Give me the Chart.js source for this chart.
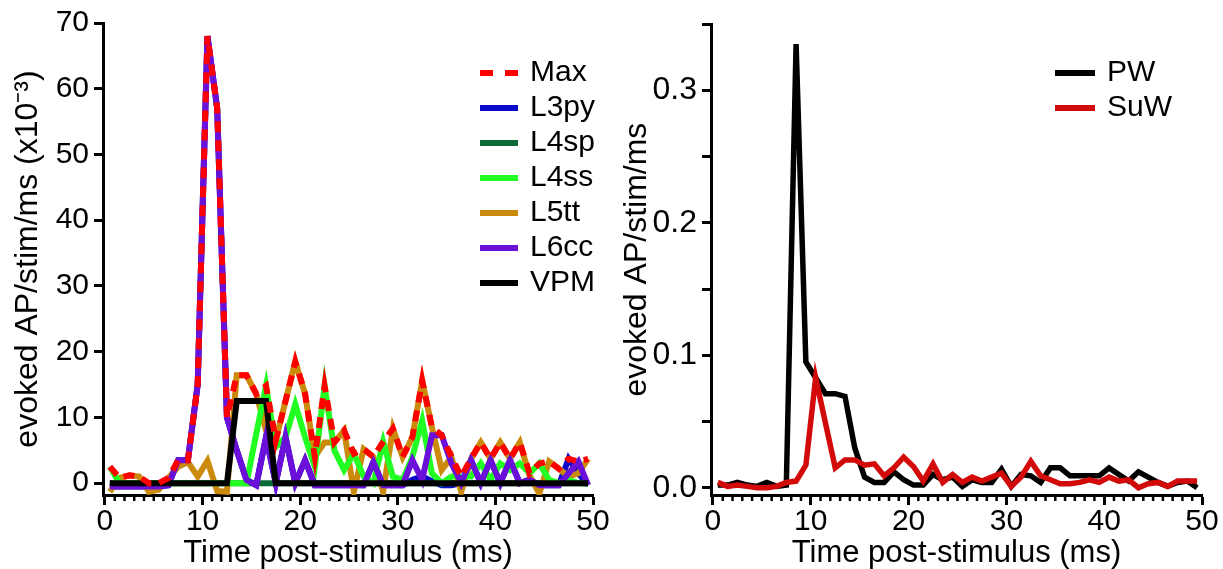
<!DOCTYPE html>
<html>
<head>
<meta charset="utf-8">
<title>evoked AP per stim</title>
<script src="https://cdn.jsdelivr.net/npm/chart.js@4.4.1/dist/chart.umd.min.js"></script>
<style>
    html, body { margin: 0; padding: 0; background: #fff; }
    #wrap { position: relative; width: 1223px; height: 569px; }
    #left { position: absolute; left: 0; top: 0; }
    #right { position: absolute; left: 615px; top: 0; }
</style>
</head>
<body>
<div id="wrap">
    <canvas id="left" width="615" height="569"></canvas>
    <canvas id="right" width="608" height="569"></canvas>
</div>
<script>
    "use strict";

    // bin centres (ms)
    var times = [0.5, 1.5, 2.5, 3.5, 4.5, 5.5, 6.5, 7.5, 8.5, 9.5,
        10.5, 11.5, 12.5, 13.5, 14.5, 15.5, 16.5, 17.5, 18.5, 19.5,
        20.5, 21.5, 22.5, 23.5, 24.5, 25.5, 26.5, 27.5, 28.5, 29.5,
        30.5, 31.5, 32.5, 33.5, 34.5, 35.5, 36.5, 37.5, 38.5, 39.5,
        40.5, 41.5, 42.5, 43.5, 44.5, 45.5, 46.5, 47.5, 48.5, 49.5];

    // left panel, x10^-3 AP/stim/ms
    var maxVals = [2.5, 0.8, 1.2, 1.0, 0, 0, 0.8, 3.5, 3.5, 15,
        68, 57, 10, 16.4, 16.4, 13.6, 14.8, 6.5, 12.5, 18.5,
        13.6, 4, 14.8, 6.2, 8, 4.5, 5.2, 4, 6.3, 8.3,
        4, 7, 15.6, 8.5, 7.3, 4, 1, 3.7, 6.2, 3.7,
        6.2, 3.7, 6.2, 1.5, 3, 3.3, 2.2, 3.7, 3.3, 3.7];
    var l3py = [-0.5, -0.5, -0.5, -0.5, -0.5, -0.5, -0.3, 3.5, 3.5, 15,
        68, 57, 10, 5, 0.5, -0.3, 7, 0, 7, 0,
        3.5, -0.3, -0.3, -0.3, -0.3, -0.3, -0.3, 3.2, -0.3, -0.3,
        -0.3, 0.5, 1.0, 0.3, -0.3, -0.3, 0, 3.5, 0, 3.5,
        0, 3.5, 0, 0.5, -0.3, -0.3, -0.3, 3.7, 1.5, -0.3];
    var l4sp = [0, 0, 0, 0, 0, 0, 0, 0, 0, 0,
        0, 0, 0, 0, 0, 0, 0, 0, 0, 0,
        0, 0, 0, 0, 0, 0, 0, 0, 0, 0,
        0, 0, 0, 0, 0, 0, 0, 0, 0, 0,
        0, 0, 0, 0, 0, 0, 0, 0, 0, 0];
    var l4ss = [2.5, 0, 0, 0, 0, 0, 0, 0, 0, 0,
        0, 0, 0, 0, 0, 7.5, 14.8, 5.5, 7, 12,
        7, 2.5, 14.8, 5, 2, 4.5, 1, 0, 6.3, 1,
        0.5, 4, 9.5, 1.5, 0, 1, 1, 1, 3, 0.5,
        3, 2, 3, 1.5, 3, 0.5, 0, 0.5, 0, 0];
    var l5tt = [-1.3, 0.8, 1.2, 1.0, -1.3, -1.0, 0.8, 2.5, 3.2, 1.0,
        3.4, -1.2, -1.3, 16.4, 16.4, 13.6, 8, 6.5, 12.5, 18.5,
        13.6, 4, 6.2, 6.2, 8, -1.3, 5.2, 4, -1.3, 8.3,
        4, 7, 15.6, 8.5, 2, 4, -1.3, 3.7, 6.2, 3.7,
        6.2, 3.7, 6.2, 1.2, -1.6, 3.3, 2.2, 1, 1.5, 3.7];
    var l6cc = [-0.5, -0.5, -0.5, -0.5, -0.5, -0.5, -0.3, 3.5, 3.5, 15,
        68, 57, 10, 5, 0.5, -0.3, 7, 0, 7, 0,
        3.5, -0.3, -0.3, -0.3, -0.3, -0.3, -0.3, 3.2, -0.3, -0.3,
        -0.3, 3.5, 0.5, 7.3, 7.3, 3, 0, 3.5, 0, 3.5,
        0, 3.5, 0, 0.5, -0.3, -0.3, -0.3, 1.5, 3.3, -0.3];
    var vpm = [0, 0, 0, 0, 0, 0, 0, 0, 0, 0,
        0, 0, 0, 12.5, 12.5, 12.5, 12.5, 0, 0, 0,
        0, 0, 0, 0, 0, 0, 0, 0, 0, 0,
        0, 0, 0, 0, 0, 0, 0, 0, 0, 0,
        0, 0, 0, 0, 0, 0, 0, 0, 0, 0];

    // right panel, AP/stim/ms
    var pw = [0.002, 0.002, 0.004, 0.002, 0.001, 0.004, 0.001, 0.002, 0.335, 0.095,
        0.083, 0.071, 0.071, 0.069, 0.03, 0.008, 0.004, 0.004, 0.012, 0.006,
        0.002, 0.002, 0.01, 0.006, 0.008, 0.001, 0.006, 0.004, 0.004, 0.014,
        0.001, 0.01, 0.009, 0.004, 0.015, 0.015, 0.009, 0.009, 0.009, 0.009,
        0.015, 0.01, 0.005, 0.012, 0.008, 0.004, 0.001, 0.004, 0.005, 0.0];
    var suw = [0.004, 0.001, 0.002, 0.001, 0.0, 0.0, 0.001, 0.004, 0.005, 0.017,
        0.083, 0.049, 0.015, 0.021, 0.021, 0.017, 0.018, 0.009, 0.015, 0.023,
        0.016, 0.005, 0.018, 0.004, 0.01, 0.004, 0.008, 0.005, 0.008, 0.011,
        0.001, 0.008, 0.02, 0.009, 0.006, 0.003, 0.003, 0.004, 0.006, 0.004,
        0.008, 0.005, 0.006, 0.0, 0.003, 0.004, 0.001, 0.005, 0.005, 0.005];

    var xTicks = [0, 10, 20, 30, 40, 50];
    var yTicksLeft = [0, 10, 20, 30, 40, 50, 60, 70];
    var yTicksRight = [0, 0.05, 0.1, 0.15, 0.2, 0.25, 0.3, 0.35];

    Chart.defaults.font.family = '"Liberation Sans", Arial, sans-serif';
    Chart.defaults.color = '#000';

    function pts(vals) {
        return times.map(function (t, i) { return {x: t, y: vals[i]}; });
    }

    function line(label, vals, color, order, width, dash) {
        return {
            label: label,
            data: pts(vals),
            borderColor: color,
            backgroundColor: color,
            borderWidth: width,
            borderDash: dash || [],
            borderJoinStyle: 'miter',
            pointRadius: 0,
            tension: 0,
            order: order
        };
    }

    // small ms ticks between the labelled ones
    var minorTicks = {
        id: 'minorTicks',
        afterDraw: function (chart) {
            var xs = chart.scales.x;
            var c = chart.ctx;
            var y0 = chart.chartArea.bottom;
            c.save();
            c.strokeStyle = '#000';
            c.lineWidth = 2.5;
            for (var v = 1; v < 50; v++) {
                if (v % 10 === 0) continue;
                var px = xs.getPixelForValue(v);
                c.beginPath();
                c.moveTo(px, y0);
                c.lineTo(px, y0 + 6);
                c.stroke();
            }
            c.restore();
        }
    };

    // legend drawn inside the plot, top right
    var sideLegend = {
        id: 'sideLegend',
        afterDatasetsDraw: function (chart, args, opts) {
            var c = chart.ctx;
            c.save();
            c.font = '30px "Liberation Sans", Arial, sans-serif';
            c.textBaseline = 'middle';
            c.fillStyle = '#000';
            chart.data.datasets.forEach(function (ds, i) {
                var y = opts.y + i * opts.gap;
                c.beginPath();
                c.strokeStyle = ds.borderColor;
                c.lineWidth = 6;
                c.setLineDash(ds.borderDash.length ? [13, 12] : []);
                c.moveTo(opts.x, y);
                c.lineTo(opts.x + opts.len, y);
                c.stroke();
                c.setLineDash([]);
                c.fillText(ds.label, opts.x + opts.len + opts.pad, y);
            });
            c.restore();
        }
    };

    function makeOptions(cfg) {
        return {
            responsive: false,
            animation: false,
            devicePixelRatio: 1,
            events: [],
            layout: {padding: {left: 0, top: 23, right: cfg.padRight, bottom: 0}},
            plugins: {
                legend: {display: false},
                tooltip: {enabled: false},
                sideLegend: cfg.legend
            },
            scales: {
                x: {
                    type: 'linear',
                    min: -0.2,
                    max: 50,
                    afterFit: function (s) { s.height = 74; },
                    afterBuildTicks: function (s) {
                        s.ticks = xTicks.map(function (v) { return {value: v}; });
                    },
                    ticks: {
                        autoSkip: false,
                        maxRotation: 0,
                        padding: -1,
                        font: {size: 30},
                        callback: function (v) { return String(v); }
                    },
                    grid: {
                        drawOnChartArea: false,
                        drawTicks: true,
                        tickLength: 10,
                        tickWidth: 3,
                        tickColor: '#000'
                    },
                    border: {display: true, color: '#000', width: 3},
                    title: {
                        display: true,
                        text: 'Time post-stimulus (ms)',
                        font: {size: 31, lineHeight: 1.0},
                        padding: {top: 0, bottom: 0}
                    }
                },
                y: {
                    type: 'linear',
                    min: cfg.yMin,
                    max: cfg.yMax,
                    afterFit: function (s) { s.width = cfg.yWidth; },
                    afterBuildTicks: function (s) {
                        s.ticks = cfg.yTicks.map(function (v) { return {value: v}; });
                    },
                    ticks: {
                        autoSkip: false,
                        padding: 5,
                        font: {size: cfg.tickSize},
                        callback: cfg.yLabel
                    },
                    grid: {
                        drawOnChartArea: false,
                        drawTicks: true,
                        tickLength: 9,
                        tickWidth: 3,
                        tickColor: '#000'
                    },
                    border: {display: true, color: '#000', width: 3},
                    title: {
                        display: true,
                        text: cfg.yTitle,
                        font: {size: 32},
                        padding: {top: cfg.titlePad, bottom: 0}
                    }
                }
            }
        };
    }

    // left: all cell types
    var ctxL = document.getElementById("left");
    new Chart(ctxL, {
        type: 'line',
        data: {
            datasets: [
                line('Max', maxVals, '#ff0000', 0, 6, [11, 8]),
                line('L3py', l3py, '#0a0ac8', 6, 6),
                line('L4sp', l4sp, '#0b6b38', 5, 6),
                line('L4ss', l4ss, '#22ff22', 3, 6),
                line('L5tt', l5tt, '#cc8a0c', 4, 6),
                line('L6cc', l6cc, '#6a10d8', 2, 6),
                line('VPM', vpm, '#000000', 1, 6)
            ]
        },
        options: makeOptions({
            padRight: 22,
            yMin: -1.8,
            yMax: 70,
            yWidth: 103,
            yTicks: yTicksLeft,
            tickSize: 30,
            yLabel: function (v) { return String(v); },
            yTitle: 'evoked AP/stim/ms (x10\u207B\u00B3)',
            titlePad: 9,
            legend: {x: 480, y: 73, gap: 35, len: 38, pad: 12}
        }),
        plugins: [minorTicks, sideLegend]
    });

    // right: principal vs surround whisker
    var ctxR = document.getElementById("right");
    new Chart(ctxR, {
        type: 'line',
        data: {
            datasets: [
                line('PW', pw, '#000000', 1, 5.5),
                line('SuW', suw, '#d20a0a', 0, 5.5)
            ]
        },
        options: makeOptions({
            padRight: 21,
            yMin: -0.0055,
            yMax: 0.35,
            yWidth: 96,
            yTicks: yTicksRight,
            tickSize: 32,
            yLabel: function (v) {
                return Math.round(v * 100) % 10 === 0 ? v.toFixed(1) : '';
            },
            yTitle: 'evoked AP/stim/ms',
            titlePad: 3,
            legend: {x: 440, y: 73, gap: 35, len: 40, pad: 12}
        }),
        plugins: [minorTicks, sideLegend]
    });
</script>
</body>
</html>
